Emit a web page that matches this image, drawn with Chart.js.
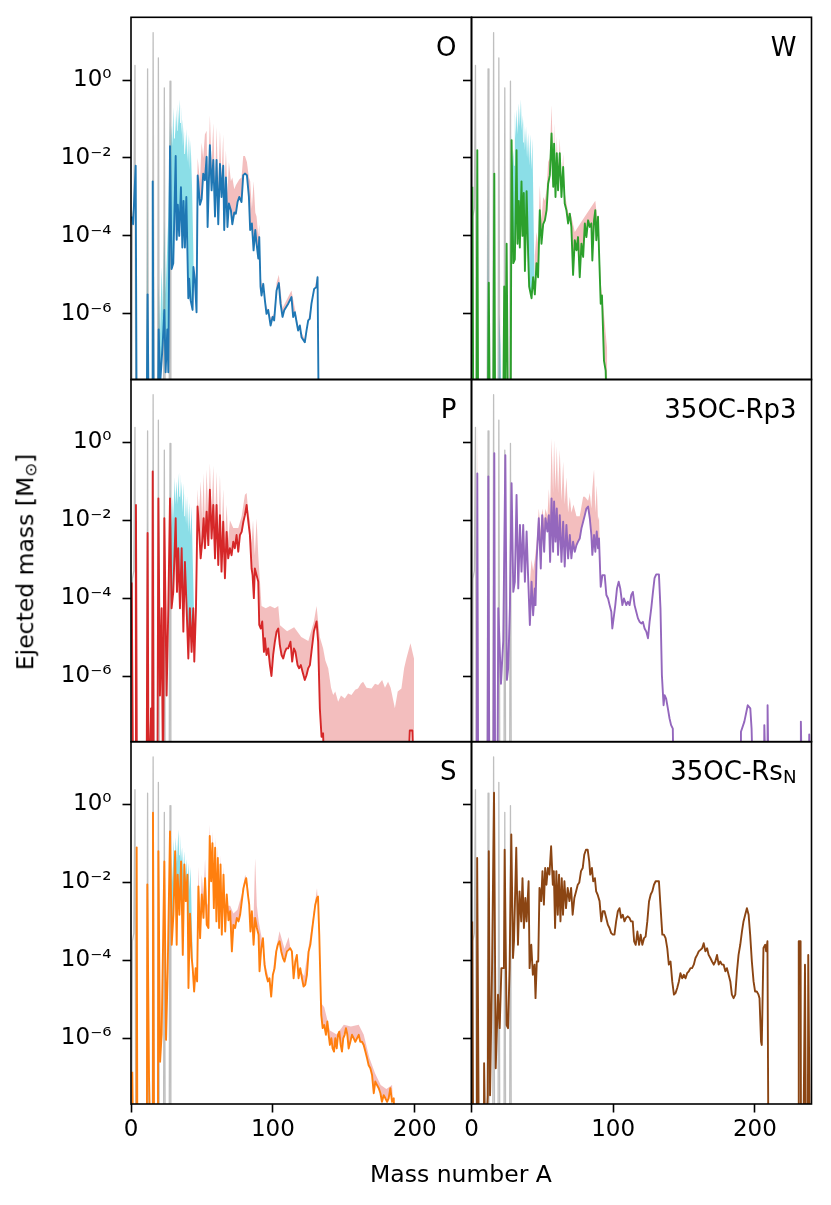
<!DOCTYPE html>
<html>
<head>
<meta charset="utf-8">
<title>Ejected mass vs mass number</title>
<script src="https://cdn.jsdelivr.net/npm/chart.js@4.4.1/dist/chart.umd.min.js"></script>
<style>
html, body { margin: 0; padding: 0; background: #fff; }
#fig { position: relative; width: 831px; height: 1205px; overflow: hidden;
  font-family: "DejaVu Sans", sans-serif; color: #000; }
#fig canvas { position: absolute; left: 0; top: 0; }
.txt { position: absolute; line-height: 1; white-space: nowrap; z-index: 10; }
.txt sub { font-size: 0.7em; vertical-align: -0.18em; line-height: 0; }
.pname { font-size: 26px; text-align: right; }
</style>
</head>
<body>
<div id="fig">
  <div class="txt" style="font-size:23.5px;left:26px;top:562px;transform:translate(-50%,-50%) rotate(-90deg)">Ejected mass [M<sub>&#8857;</sub>]</div>
  <div class="txt" style="font-size:23.5px;left:461px;top:1163px;transform:translateX(-50%)">Mass number A</div>
</div>
<script>
// every series is a list of [mass number A, log10(ejected mass / Msun)]
// -9 means "below the plotted range"

const xTicks = [0, 100, 200];
const yTicks = [1, 1e-2, 1e-4, 1e-6];
const yTickLabels = ['10⁰', '10⁻²', '10⁻⁴', '10⁻⁶'];
const panelNames = ['O', 'W', 'P', '35OC-Rp3', 'S', '35OC-Rs<sub>N</sub>'];
const panelColors = ['#1f77b4', '#2ca02c', '#d62728', '#9467bd', '#ff7f0e', '#8b4513'];

// reference light-element spikes, same in every panel
const greyRef = [[0.5,-9],[1,-3.5],[2,-3.3],[2.8,0.38],[3.4,-9],[11,-9],[11.7,0.29],[12.3,-9],[15,-9],[15.6,1.22],[16.3,-9],[18.7,-9],[19.3,0.57],[20,-9],[22.9,-9],[23.5,-0.2],[24.1,-9],[26.9,-9],[27.5,-0.03],[28.1,-9]];

const lineO = [[0.5,-3.5],[1.5,-3.7],[3.3,-2.2],[4,-9],[11,-9],[11.7,-5.5],[12.5,-9],[15,-9],[15.3,-2.6],[16,-9],[19,-9],[19.5,-6.4],[20.5,-7.8],[21.6,-7.2],[22.3,-6.8],[23.5,-5.9],[24.4,-7.5],[25.6,-6.4],[26.3,-7.5],[27.5,-1.7],[28.6,-4.85],[29.8,-4.7],[31.5,-1.95],[32.2,-4.1],[33,-3.2],[34,-4.0],[35.2,-2.75],[36.2,-4.3],[37,-3.1],[38,-4.3],[39,-3.0],[40.4,-5.6],[41,-5.1],[42,-5.65],[43.4,-5.9],[44,-4.8],[45,-5.1],[46.2,-5.96],[47,-2.45],[48.6,-3.2],[49.8,-3.05],[50.9,-2.4],[52.1,-2.57],[53.3,-1.97],[54,-3.77],[55.6,-1.67],[56.8,-2.83],[58,-2.05],[59.2,-3.5],[60.3,-2.05],[61.5,-3.7],[62.7,-2.15],[63.8,-3.0],[65,-2.2],[65.7,-3.85],[66.9,-2.5],[68,-3.77],[69,-3.17],[70.4,-3.34],[71.4,-3.7],[72.8,-3.4],[73.9,-3.43],[75.1,-3.13],[76.3,-3.0],[77.9,-3.13],[79.1,-2.44],[80.3,-2.4],[81.7,-2.44],[83.1,-3.0],[84,-3.85],[85.2,-3.68],[86.4,-4.37],[87.6,-3.85],[88.5,-4.2],[89.7,-4.58],[90.4,-4.03],[91.3,-5.3],[92,-5.53],[93.2,-5.23],[94.4,-5.66],[95.5,-6.0],[96.7,-5.9],[98.4,-6.3],[99.8,-6.08],[100.9,-6.17],[102.6,-5.4],[104.2,-5.21],[105.4,-5.74],[106.8,-6.08],[108,-5.91],[110.8,-5.74],[113.1,-5.57],[114.3,-6.08],[115.5,-5.96],[116.7,-6.21],[117.8,-6.43],[119,-6.3],[120.2,-6.6],[122.5,-6.73],[123.7,-6.43],[124.9,-6.17],[126,-6.13],[127.2,-5.74],[129.1,-5.36],[130.8,-5.31],[131.5,-5.06],[132.4,-9]];
const pinkO = [[44,-9],[46.2,-3.6],[47,-2.0],[48.6,-2.6],[49.8,-1.6],[50.9,-2.0],[52.1,-1.4],[53.3,-1.3],[54,-3.0],[55.6,-0.9],[56.8,-2.2],[58,-1.1],[59.2,-2.8],[60.3,-1.2],[61.5,-2.9],[62.7,-1.3],[63.8,-2.5],[65,-1.4],[65.7,-2.9],[66.9,-1.8],[68,-2.9],[69,-2.1],[70.4,-2.6],[71.4,-2.5],[72.8,-2.8],[73.9,-2.7],[76.3,-2.55],[77.9,-2.5],[79.1,-1.95],[80.3,-1.95],[81.7,-2.1],[83.1,-2.5],[84,-2.6],[85.2,-3.3],[86.4,-2.6],[87.6,-3.4],[88.5,-3.5],[89.7,-4.0],[90.4,-3.7],[91.3,-5.0],[92,-5.2],[95.5,-5.8],[98.4,-6.1],[100.9,-6.0],[102.6,-5.2],[104.2,-5.0],[106.8,-5.85],[113.1,-5.4],[117.8,-6.3],[122.5,-6.65],[127.2,-5.7],[131.5,-5.0],[132.4,-9]];
const cyanO = [[10.8,-9],[11.5,-2.0],[12.2,-9],[18.5,-9],[19.5,-5.2],[20.5,-6.5],[21.6,-4.8],[22.5,-6.0],[23.5,-3.6],[24.4,-5.5],[25.6,-4.2],[26.3,-3.5],[27.5,-1.0],[28,-2.0],[28.6,-1.15],[29.2,-1.7],[29.8,-0.7],[30.4,-1.5],[31,-0.9],[31.6,-1.4],[32.2,-0.75],[32.6,-1.3],[33,-0.6],[33.5,-1.2],[34,-0.5],[34.6,-1.1],[35.2,-0.6],[35.7,-1.4],[36.2,-1.0],[36.6,-1.7],[37,-1.2],[37.5,-1.9],[38,-1.3],[38.5,-1.9],[39,-1.25],[39.7,-2.1],[40.4,-1.4],[40.7,-2.2],[41,-1.45],[41.5,-2.3],[42,-1.55],[43,-2.7],[44,-4.5],[45,-9]];

const lineW = [[0.6,-2.74],[1.3,-9],[3.5,-9],[4.1,-1.8],[4.7,-9],[11.5,-9],[12.2,-5.2],[13,-9],[15.3,-9],[16.1,-2.4],[16.7,-9],[22.3,-9],[23.1,-5.3],[23.9,-8],[24.8,-4.2],[25.8,-9],[27.6,-9],[28.3,-1.54],[29.5,-4.7],[30.6,-4.6],[31.8,-1.8],[32.5,-4.2],[33.4,-3.1],[34.1,-4.3],[35.3,-2.6],[36,-4.0],[36.9,-2.9],[37.7,-4.9],[38.9,-2.85],[40,-4.5],[40.7,-5.3],[42.4,-5.6],[43.5,-5.06],[44.7,-5.5],[45.9,-4.7],[47,-5.06],[48.2,-3.34],[49.4,-4.2],[50.6,-3.7],[51.8,-3.6],[53,-3.34],[54.1,-2.66],[55.3,-2.44],[56.5,-1.37],[57.7,-2.74],[58.3,-1.63],[59.3,-3.0],[60.2,-1.88],[61.1,-2.83],[62.3,-1.88],[63.5,-3.0],[64.7,-2.23],[65.8,-3.17],[67,-3.34],[68.2,-3.68],[69.4,-3.43],[70.5,-3.77],[71.7,-5.0],[72.9,-4.11],[74.1,-4.37],[75.2,-4.03],[76.4,-5.06],[77.6,-4.2],[78.8,-4.54],[80,-3.68],[81.1,-4.03],[82.3,-3.6],[83.5,-3.77],[84.6,-3.68],[85.3,-4.63],[86.5,-3.6],[87.4,-3.34],[88.1,-4.11],[89.3,-3.51],[90,-4.37],[91.2,-5.74],[92.1,-5.53],[93.5,-7.2],[94.7,-7.46],[95.9,-9]];
const pinkW = [[44,-9],[44.7,-4.5],[45.9,-3.9],[47,-4.2],[48.2,-2.7],[49.4,-3.6],[50.6,-3.0],[51.8,-3.1],[53,-2.8],[54.1,-2.1],[55.3,-2.0],[56.5,-0.64],[57.7,-2.3],[58.3,-1.1],[59.3,-2.5],[60.2,-1.45],[61.1,-2.5],[62.3,-1.5],[63.5,-2.7],[64.7,-1.9],[65.8,-2.9],[68.2,-3.4],[70.5,-3.5],[72.9,-3.9],[80,-3.5],[87.4,-3.1],[90,-4.0],[91.2,-5.2],[93,-5.8],[94.7,-6.5],[96,-7.0],[97.5,-8],[98,-9]];
const cyanW = [[10.8,-9],[11.7,-2.5],[12.5,-9],[18.5,-9],[19.5,-6.0],[20.5,-6.8],[21.5,-9],[27.4,-9],[28.3,-1.4],[28.9,-2.3],[29.5,-1.8],[30,-2.2],[30.6,-0.8],[31.2,-1.5],[31.8,-0.75],[32.6,-1.4],[33.4,-0.6],[34.1,-1.2],[34.9,-0.5],[35.4,-1.3],[36,-0.9],[36.4,-1.6],[36.9,-1.0],[37.7,-1.8],[38.5,-1.2],[39.2,-2.0],[40,-1.35],[40.7,-2.2],[41.5,-1.4],[42.3,-2.3],[43,-1.5],[43.8,-3.5],[44.5,-5.2],[45.5,-9]];

const lineP = [[0.5,-3.6],[1.5,-9],[2.9,-9],[3.5,-1.61],[4.2,-9],[11,-9],[11.7,-2.33],[12.2,-7.17],[13.3,-9],[14.1,-6.83],[14.8,-9],[15.3,-0.75],[16,-9],[18.6,-9],[19.3,-1.44],[20.4,-6.5],[21.6,-4.26],[22.6,-9],[23.5,-1.95],[25.1,-6.5],[26.3,-4.26],[27.5,-1.44],[28.6,-4.26],[29.8,-3.84],[31.5,-1.95],[32.4,-3.84],[33.3,-2.72],[34.5,-4.26],[35.7,-2.72],[36.9,-4.86],[38,-3.07],[39.2,-4.26],[40.4,-5.55],[41.5,-4.26],[42.7,-5.38],[43.9,-4.26],[44.6,-5.63],[45.8,-4.26],[46.9,-1.65],[47.9,-2.2],[49.1,-2.98],[50.2,-2.55],[51.2,-1.95],[52.1,-2.72],[53.3,-1.78],[54.5,-2.64],[55.6,-1.22],[56.8,-2.47],[58,-1.61],[59.2,-2.98],[60.3,-1.61],[61.5,-3.15],[62.7,-1.87],[63.8,-3.32],[65,-2.04],[66.2,-3.49],[67.4,-2.3],[68.5,-2.98],[69.7,-2.72],[70.9,-2.9],[72.1,-2.55],[73.2,-2.72],[74.4,-2.38],[75.6,-2.81],[76.8,-2.38],[78,-2.3],[79.2,-2.04],[80.3,-1.87],[81.5,-1.61],[82.7,-2.04],[83.8,-2.38],[85,-3.24],[85.7,-3.41],[86.6,-4.0],[87.3,-3.24],[88.5,-3.41],[89.7,-3.58],[90.4,-4.69],[91.5,-4.78],[92.5,-4.6],[93.7,-5.38],[94.4,-5.03],[95.5,-5.46],[96.7,-5.29],[97.9,-5.72],[99,-6.0],[100.2,-5.46],[101.4,-5.12],[102.6,-4.86],[103.8,-4.78],[104.9,-5.2],[106.1,-5.46],[107.3,-5.55],[108.5,-5.38],[109.6,-5.29],[110.8,-5.29],[112.4,-5.12],[113.6,-5.63],[114.8,-5.29],[115.9,-5.38],[117.4,-5.72],[118.5,-5.8],[119.7,-5.72],[120.9,-5.89],[122.5,-6.1],[123.7,-5.98],[124.9,-5.8],[126.1,-5.72],[127.2,-5.38],[128.9,-4.86],[130.8,-4.6],[131.9,-5.12],[133.1,-6.83],[134.3,-7.56],[135.4,-7.47],[136.6,-9],[194.8,-9],[196.5,-7.4],[198.3,-7.4],[199.5,-9]];
const pinkP = [[44,-9],[45.8,-3.5],[46.9,-1.2],[47.9,-1.9],[49.1,-1.0],[50.2,-2.0],[51.2,-0.8],[52.1,-2.1],[53.3,-0.7],[54.5,-2.0],[55.6,-0.54],[56.8,-1.9],[58,-0.6],[59.2,-2.2],[60.3,-0.75],[61.5,-2.4],[62.7,-0.84],[63.8,-2.5],[65,-1.2],[66.2,-2.6],[67.4,-1.6],[68.5,-2.5],[69.7,-2.0],[72.1,-2.2],[75.6,-2.2],[78,-1.9],[80.3,-1.35],[81.5,-1.3],[82.7,-1.8],[83.8,-2.0],[85,-2.6],[86,-2.0],[87.3,-2.9],[88.5,-1.95],[89.7,-2.9],[90.4,-3.3],[92,-4.2],[95,-4.26],[98,-4.2],[101.4,-4.26],[103.8,-4.2],[105,-4.7],[110,-4.85],[115,-4.75],[120,-5.0],[125,-5.1],[128.9,-4.6],[130.8,-4.2],[131.9,-4.6],[133.1,-5.0],[135.4,-5.29],[137,-5.6],[139,-5.8],[141,-6.3],[142.5,-6.49],[144,-6.4],[146,-6.66],[148,-6.5],[150.7,-6.58],[153,-6.45],[155.4,-6.49],[158,-6.35],[160,-6.32],[162,-6.2],[163.6,-6.15],[166,-6.3],[169.5,-6.32],[172,-6.2],[174.2,-6.23],[177,-6.1],[179,-6.3],[181.2,-6.15],[183,-6.3],[186,-6.83],[188,-6.4],[190.6,-6.32],[192.5,-5.8],[194.1,-5.55],[197,-5.16],[198.5,-5.4],[200,-5.63],[202.3,-5.98],[204.7,-6.15],[207,-6.28],[208.2,-6.23],[209,-9]];
const cyanP = [[10.8,-9],[11.7,-2.0],[12.4,-9],[18.6,-9],[19.5,-5.0],[20.5,-6.0],[21.5,-9],[27,-9],[28,-1.2],[28.8,-2.2],[29.5,-1.4],[30,-2.0],[30.5,-0.9],[31.2,-1.6],[32,-1.0],[32.8,-1.6],[33.5,-0.8],[34,-1.4],[34.5,-0.75],[35,-1.5],[35.5,-1.0],[36.3,-1.8],[37,-1.05],[37.5,-1.9],[38,-1.3],[38.8,-2.1],[39.5,-1.4],[40.3,-2.3],[41,-1.55],[41.8,-2.4],[42.7,-1.65],[43.5,-3],[44.5,-4.5],[45.5,-9]];

const lineRp3 = [[0.5,-9],[3.6,-9],[4.1,-0.8],[4.7,-9],[11.3,-9],[11.9,-0.88],[12.6,-9],[15.4,-9],[16.1,-0.28],[16.7,-9],[18.3,-9],[18.9,-4.26],[20.8,-6.2],[22.4,-5.1],[23.9,-0.33],[25,-6.1],[25.9,-5.8],[27.1,-4.26],[28.3,-1.05],[29.5,-3.84],[30.6,-3.58],[31.8,-1.35],[33,-3.75],[34.2,-2.12],[35.3,-3.32],[36.5,-2.12],[37.7,-3.58],[38.9,-2.29],[40,-3.49],[41.2,-4.69],[42.4,-3.58],[43.5,-4.44],[44.7,-3.75],[45.2,-4.18],[45.9,-3.07],[47.5,-1.95],[48.9,-3.24],[49.9,-1.87],[51.3,-2.81],[52.2,-1.95],[53.6,-2.29],[54.6,-1.87],[55.5,-3.07],[56.5,-1.44],[57.6,-2.81],[58.3,-1.52],[59.3,-2.55],[60.2,-1.7],[61.1,-2.89],[62.3,-1.87],[63.5,-3.07],[64.7,-2.04],[65.8,-3.19],[67,-2.12],[68.2,-2.98],[69.4,-2.38],[70.5,-2.98],[71.7,-2.55],[72.9,-2.81],[74.1,-2.64],[75.2,-2.55],[76.4,-2.47],[77.6,-2.21],[78.8,-2.04],[80,-1.87],[81.1,-1.7],[82.3,-1.65],[83.5,-1.95],[84.6,-2.38],[85.3,-2.89],[86.5,-2.38],[87.4,-2.81],[88.4,-2.29],[89.3,-2.72],[90,-2.47],[91.2,-3.71],[92.4,-3.41],[94,-3.41],[95.2,-3.92],[96.4,-4.01],[97.5,-4.18],[98.7,-4.35],[99.4,-4.78],[100.6,-4.44],[101.5,-4.18],[102.7,-3.75],[103.9,-3.58],[105,-3.75],[106.5,-4.18],[107.6,-4.01],[109.3,-4.18],[110.4,-4.09],[111.6,-4.18],[112.8,-3.92],[113.9,-3.84],[115.1,-4.18],[116.3,-4.35],[117.5,-4.52],[118.7,-4.61],[119.8,-4.65],[121,-4.61],[122.2,-4.78],[123.4,-4.86],[124.6,-5.03],[125.7,-4.61],[126.9,-4.26],[128.1,-3.84],[129.2,-3.49],[130.4,-3.39],[132.3,-3.39],[133.4,-4.26],[134.4,-5.98],[135.6,-6.75],[136.3,-6.49],[137.4,-6.58],[138.6,-6.83],[139.8,-7.09],[140.9,-7.26],[142.1,-7.35],[142.8,-9],[189.9,-9],[190.2,-7.43],[192.6,-7.17],[195,-6.75],[196.8,-6.83],[197.7,-7.35],[198.9,-9],[206.4,-9],[206.7,-7.26],[207.9,-9],[208.6,-9],[209,-6.75],[209.8,-9],[232.2,-9],[232.5,-7.17],[233.3,-9],[238,-9],[238.4,-7.5],[239,-9]];
const pinkRp3 = [[3.6,-9],[4.3,0.62],[5,-9],[40,-9],[41.2,-3.6],[42.4,-3.0],[43.5,-3.3],[44.7,-3.0],[45.9,-2.6],[47.5,-1.7],[48.9,-2.3],[49.9,-1.7],[51.3,-2.0],[52.2,-1.7],[53.6,-1.9],[54.6,-1.2],[55.5,-1.8],[56.5,0.1],[57.6,-1.3],[58.3,0.05],[59.3,-1.2],[60.2,-0.1],[61.1,-1.3],[62.3,-0.2],[63.5,-1.5],[64.7,-0.5],[65.8,-1.6],[67,-0.9],[68.2,-1.8],[69.4,-1.4],[70.5,-1.8],[72,-1.6],[74.1,-1.9],[76.4,-1.9],[78.8,-1.4],[80,-1.4],[82.3,-1.5],[83.5,-1.3],[84.6,-1.7],[85.3,-1.2],[86.5,-0.7],[87.4,-1.8],[88.4,-1.1],[89.3,-2.0],[90,-1.9],[91.2,-3.5],[92,-9]];
const cyanRp3 = [];

const lineS = [[0.9,-6.86],[1.6,-9],[3.7,-9],[4,-1.1],[4.5,-9],[11.2,-9],[11.5,-2.05],[12.7,-7],[13.8,-9],[14.9,-9],[15.5,-0.21],[16.3,-9],[19,-9],[19.3,-1.2],[20.5,-6.6],[21.6,-5.9],[23.5,-1.46],[24.7,-6.04],[25.9,-4.2],[27.5,-0.69],[28.7,-3.6],[29.9,-2.83],[31.1,-1.2],[32.2,-3.6],[32.9,-1.8],[34.1,-2.83],[35.3,-1.46],[36.5,-3.86],[37.6,-1.54],[38.6,-2.48],[39.8,-1.8],[40.5,-4.71],[41.6,-2.8],[42.8,-3.94],[43.5,-4.2],[44.5,-4.8],[45.6,-4.2],[46.6,-4.54],[47.5,-2.1],[48.7,-3.43],[49.9,-2.31],[51.1,-2.91],[52.2,-1.89],[53.4,-3.09],[54.6,-3.17],[55.5,-0.81],[56.5,-1.97],[57.4,-0.99],[58.4,-2.66],[59.3,-1.11],[60.2,-3.0],[61.2,-1.37],[62.1,-3.17],[63.1,-1.54],[64,-3.34],[65.2,-1.8],[66.4,-3.26],[67.5,-2.31],[68.7,-2.97],[69.9,-2.74],[71.1,-3.77],[72.2,-3.09],[73.4,-3.17],[74.6,-2.91],[75.8,-3.0],[76.9,-2.83],[78.1,-2.48],[79.3,-2.14],[80.5,-1.97],[81.2,-1.89],[82.4,-2.31],[83.3,-2.57],[84.2,-3.26],[85.2,-2.74],[86.4,-3.6],[87.5,-2.91],[88.7,-3.17],[89.9,-3.34],[90.6,-4.28],[91.8,-3.69],[93,-3.43],[94.1,-4.11],[95.3,-4.37],[96.5,-4.54],[97.6,-4.46],[98.8,-4.93],[100,-4.37],[101.2,-4.2],[102.4,-3.77],[103.5,-3.6],[104.7,-3.51],[105.9,-3.77],[107.1,-3.94],[108.2,-4.03],[109.9,-3.77],[111.1,-3.73],[112.2,-3.69],[113.4,-3.77],[114.6,-4.46],[115.8,-4.03],[116.9,-3.86],[118.1,-4.46],[119.3,-4.2],[120.5,-4.46],[121.6,-4.67],[122.8,-4.63],[124,-4.37],[125.2,-3.77],[126.4,-3.6],[127.5,-3.26],[128.7,-2.91],[129.9,-2.57],[131.1,-2.4],[131.8,-2.36],[132.7,-3.34],[134.1,-5.4],[135.1,-5.74],[136.2,-5.66],[137.4,-5.91],[138.4,-5.57],[139.3,-5.91],[140.2,-6.17],[141.2,-6.0],[142.1,-6.26],[143.1,-6.34],[144,-6.0],[145,-6.26],[145.9,-5.91],[146.8,-5.83],[147.8,-6.17],[148.7,-6.34],[149.6,-6.0],[150.6,-5.91],[151.5,-5.74],[152.5,-5.91],[153.4,-6.26],[154.6,-6.09],[155.8,-5.91],[157,-6.0],[158.1,-6.09],[159.3,-6.0],[160.5,-5.91],[161.6,-6.09],[162.8,-6.09],[164,-6.17],[165.2,-6.34],[166.4,-6.51],[167.5,-6.69],[168.7,-6.77],[169.9,-6.94],[171.1,-7.41],[172.2,-7.11],[173.4,-7.2],[174.6,-7.28],[175.8,-7.41],[176.9,-7.63],[178.1,-7.46],[179.3,-7.54],[180.5,-7.63],[181.6,-7.54],[182.8,-7.28],[184,-7.63],[185.2,-7.54],[186.4,-9]];
const pinkS = [[45,-9],[46.6,-4.0],[47.5,-1.6],[48.7,-2.9],[49.9,-1.8],[51.1,-2.4],[52.2,-1.4],[53.4,-2.6],[54.6,-2.5],[55.5,-0.51],[56.5,-1.6],[57.4,-0.7],[58.4,-2.2],[59.3,-0.85],[60.2,-2.5],[61.2,-1.1],[62.1,-2.7],[63.1,-1.3],[64,-2.9],[65.2,-1.6],[66.4,-2.9],[68,-2.6],[69.9,-2.6],[72.2,-2.8],[75,-2.7],[78.1,-2.3],[80.5,-1.8],[82.4,-2.1],[84.2,-2.8],[86.4,-2.9],[87.5,-1.37],[88.7,-2.6],[90,-3.0],[92,-3.4],[95.3,-4.2],[98.8,-4.7],[101.2,-3.9],[104.7,-3.25],[108.2,-3.7],[111.1,-3.4],[114.6,-4.2],[118.1,-4.2],[122,-4.4],[127.5,-3.1],[131.1,-2.15],[132.7,-3.1],[134.1,-5.1],[136.2,-5.2],[140.2,-5.8],[145,-5.9],[150,-5.65],[155,-5.7],[160.5,-5.65],[164,-5.9],[168,-6.5],[172,-6.9],[176,-7.2],[180,-7.3],[184,-7.2],[186.4,-9]];
const cyanS = [[10.8,-9],[11.5,-1.9],[12.3,-9],[27,-9],[28.7,-1.3],[29.3,-2.0],[30,-0.9],[30.8,-1.6],[31.5,-0.85],[32.4,-1.5],[33.4,-0.64],[34,-1.3],[34.5,-0.75],[35.2,-1.5],[36,-1.1],[36.8,-1.8],[37.5,-1.2],[38.3,-1.9],[39,-1.4],[39.8,-2.1],[40.5,-1.5],[41.2,-2.2],[42,-1.6],[43,-3.2],[44,-4.6],[45,-9]];

const lineRsN = [[0.5,-3.0],[1.2,-9],[3.8,-9],[4,-1.37],[5.2,-9],[8.7,-9],[8.9,-6.64],[9.8,-9],[11.5,-7.46],[12.2,-1.2],[13.1,-7.46],[14.5,-4.2],[15.9,0.3],[17.1,-6.77],[18.7,-4.88],[19.9,-5.74],[21.1,-4.2],[22.9,-4.2],[23.4,-1.16],[24.8,-5.66],[25.8,-5.74],[26.9,-4.2],[28.1,-0.77],[29.3,-3.94],[30,-3.51],[31.6,-1.11],[32.8,-3.6],[33.9,-2.23],[35.1,-3.0],[36,-1.89],[37,-3.17],[38,-2.4],[38.9,-3.0],[40.3,-1.97],[41,-4.2],[42.2,-3.6],[43.3,-4.37],[44.5,-4.11],[45.2,-4.97],[46.1,-4.03],[47.1,-4.03],[48,-2.14],[49.2,-2.48],[50.1,-1.71],[51.1,-2.57],[52,-1.63],[52.9,-2.06],[53.9,-1.63],[55,-1.8],[56.2,-1.07],[57.4,-2.06],[58.1,-1.71],[59,-3.17],[59.9,-1.71],[60.9,-2.83],[61.8,-1.8],[62.8,-3.0],[63.7,-1.89],[64.6,-2.83],[65.6,-1.97],[66.7,-2.66],[67.9,-2.14],[69.1,-2.48],[70.3,-2.14],[71.4,-2.83],[72.6,-2.4],[73.8,-2.23],[75,-2.06],[76.1,-2.0],[77.3,-1.71],[78.5,-1.63],[79.6,-1.29],[80.8,-1.16],[82,-1.16],[83.1,-1.46],[83.8,-1.8],[85,-1.63],[85.9,-1.97],[87.1,-1.89],[88,-2.23],[89,-2.31],[90.4,-2.48],[91.6,-3.0],[92.7,-2.74],[93.9,-2.74],[95.1,-2.91],[96.3,-3.09],[97.4,-3.17],[98.6,-3.3],[99.8,-3.34],[100.9,-3.34],[102.1,-3.0],[103.3,-2.74],[104.5,-2.66],[105.6,-2.91],[106.8,-2.83],[108,-3.0],[109.1,-2.91],[110.3,-2.87],[111.5,-2.91],[112.6,-3.0],[113.8,-3.0],[114.8,-3.51],[115.9,-3.6],[117.1,-3.26],[118.3,-3.6],[119.4,-3.34],[120.6,-3.6],[121.8,-3.43],[122.9,-3.39],[124.1,-3.0],[125.3,-2.49],[126.5,-2.31],[127.6,-2.23],[128.8,-2.06],[130,-1.97],[132.3,-1.97],[133.5,-2.66],[134.7,-3.34],[135.8,-3.34],[137,-3.43],[138.2,-3.69],[139.3,-4.11],[140.5,-4.03],[141.7,-4.54],[142.9,-4.88],[144,-4.84],[145.2,-4.71],[146.4,-4.54],[147.5,-4.33],[148.7,-4.46],[149.9,-4.37],[151.1,-4.46],[152.2,-4.33],[153.4,-4.28],[154.6,-4.2],[155.7,-4.2],[156.9,-4.11],[158.1,-3.94],[159.3,-3.86],[160.4,-3.77],[161.6,-3.73],[162.8,-3.69],[163.9,-3.56],[165.1,-3.77],[166.3,-3.69],[167.4,-3.86],[168.6,-3.94],[169.8,-4.03],[171,-4.11],[172.1,-4.03],[173.3,-3.86],[174.5,-4.11],[175.6,-4.03],[176.8,-4.11],[178,-4.11],[179.2,-4.28],[180.3,-4.2],[181.5,-4.37],[182.7,-4.54],[183.8,-4.88],[185,-4.97],[186.2,-4.88],[187.4,-4.28],[188.5,-3.86],[189.7,-3.6],[190.9,-3.26],[192,-3.0],[193.2,-2.83],[194.4,-2.66],[195.6,-2.83],[196.7,-3.34],[197.9,-4.03],[199.1,-4.54],[200.2,-4.8],[201.4,-4.8],[202.6,-4.88],[203.3,-4.97],[204.4,-6.09],[204.9,-6.17],[206.1,-3.68],[207.3,-3.6],[208,-3.77],[208.9,-3.51],[209.6,-9],[230.7,-9],[231,-3.51],[232.3,-3.51],[232.6,-9],[234.2,-9],[235.4,-4.11],[236.1,-9],[237.4,-9],[237.7,-3.86],[238.9,-9]];
const pinkRsN = [];
const cyanRsN = [];

const lines = [lineO, lineW, lineP, lineRp3, lineS, lineRsN];
const pinks = [pinkO, pinkW, pinkP, pinkRp3, pinkS, pinkRsN];
const cyans = [cyanO, cyanW, cyanP, cyanRp3, cyanS, cyanRsN];

// figure geometry (px)
const W = 831, H = 1205;
const colX = [131, 471.5, 811.5];
const rowY = [17.3, 379.5, 741.7, 1104];
const YW = 70, XH = 50;
const xMax = 240, yMin = 2.06e-8, yMax = 40.9;

const pinkFill = 'rgba(214,39,40,0.3)';
const cyanFill = 'rgba(23,190,207,0.5)';
const none = 'rgba(0,0,0,0)';
const tickFont = {family: 'DejaVu Sans', size: 23};

const toXY = arr => arr.map(([a, e]) => ({x: a, y: 10 ** e}));

const frame = {
  id: 'frame',
  afterDraw(chart) {
    const {ctx, chartArea: a} = chart;
    ctx.save();
    ctx.strokeStyle = '#000';
    ctx.lineWidth = 1.6;
    ctx.strokeRect(a.left, a.top, a.right - a.left, a.bottom - a.top);
    ctx.restore();
  }
};

const fig = document.getElementById('fig');

lines.forEach((line, i) => {
  const col = i % 2, row = Math.floor(i / 2);
  const left = colX[col], right = colX[col + 1];
  const top = rowY[row], bottom = rowY[row + 1];
  const isLeft = col === 0, isBottom = row === 2;

  const cv = document.createElement('canvas');
  cv.width = W; cv.height = H;
  fig.appendChild(cv);

  const datasets = [
    {data: toXY(line), borderColor: panelColors[i], borderWidth: 1.9, fill: false, clip: 0},
    {data: toXY(greyRef), borderColor: 'rgba(127,127,127,0.5)', borderWidth: 1.3, fill: false, clip: 0}
  ];
  if (cyans[i].length) datasets.push({data: toXY(cyans[i]), borderColor: none, borderWidth: 0, clip: 0,
    fill: {target: 0, above: cyanFill, below: none}});
  if (pinks[i].length) datasets.push({data: toXY(pinks[i]), borderColor: none, borderWidth: 0, clip: 0,
    fill: {target: 0, above: pinkFill, below: none}});

  new Chart(cv, {
    type: 'line',
    data: {datasets},
    options: {
      responsive: false,
      animation: false,
      events: [],
      layout: {padding: {left: left - YW, right: W - right, top: top, bottom: H - bottom - XH}},
      elements: {point: {radius: 0}, line: {tension: 0, borderJoinStyle: 'round'}},
      plugins: {legend: {display: false}, tooltip: {enabled: false}},
      scales: {
        x: {
          type: 'linear', min: 0, max: xMax,
          afterFit: s => { s.height = XH; s.paddingLeft = 0; s.paddingRight = 0; },
          afterBuildTicks: s => { s.ticks = xTicks.map(v => ({value: v})); },
          border: {display: false},
          grid: {display: isBottom, drawOnChartArea: false, drawTicks: isBottom, tickLength: 8.5, tickWidth: 1.6, tickColor: '#000'},
          ticks: {display: isBottom, padding: 4, color: '#000', font: tickFont, maxRotation: 0, autoSkip: false,
                  callback: v => String(v)}
        },
        y: {
          type: 'logarithmic', min: yMin, max: yMax,
          afterFit: s => { s.width = YW; s.paddingTop = 0; s.paddingBottom = 0; },
          afterBuildTicks: s => { s.ticks = yTicks.map(v => ({value: v})); },
          border: {display: false},
          grid: {display: true, drawOnChartArea: false, drawTicks: true, tickLength: 8.5, tickWidth: 1.6, tickColor: '#000'},
          ticks: {display: isLeft, padding: 11, color: '#000', font: tickFont, autoSkip: false,
                  callback: (v, k) => yTickLabels[k]}
        }
      }
    },
    plugins: [frame]
  });

  const nm = document.createElement('div');
  nm.className = 'txt pname';
  nm.style.right = (W - right + 15) + 'px';
  nm.style.top = (top + 38.5 - 0.846 * 26) + 'px';
  nm.innerHTML = panelNames[i];
  fig.appendChild(nm);
});
</script>
</body>
</html>
